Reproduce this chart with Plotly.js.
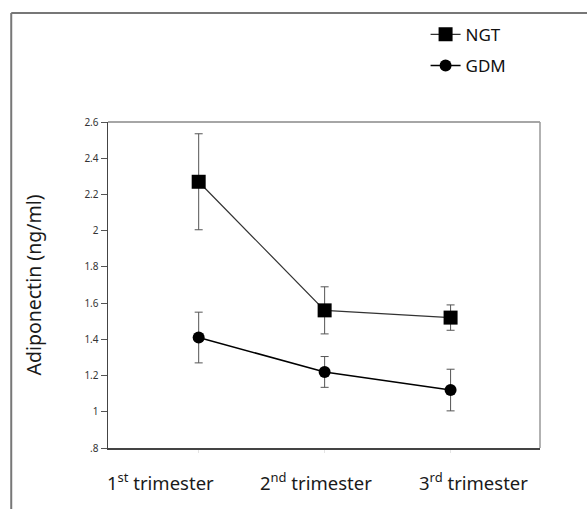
<!DOCTYPE html>
<html>
<head>
<meta charset="utf-8">
<script src="https://cdn.plot.ly/plotly-3.0.1.min.js"></script>
<style>html,body{margin:0;padding:0;background:#fff;}#chart{width:587px;height:509px;}</style>
</head>
<body>
<div id="chart"></div>
<script>
// Data
const categories = ["1st trimester", "2nd trimester", "3rd trimester"];
const categoryLabels = ["1<sup>st</sup> trimester", "2<sup>nd</sup> trimester", "3<sup>rd</sup> trimester"];
const ngtMean = [2.27, 1.56, 1.52];
const ngtErr = [0.265, 0.13, 0.07];
const gdmMean = [1.41, 1.22, 1.12];
const gdmErr = [0.14, 0.085, 0.115];
const yTickVals = [0.8, 1, 1.2, 1.4, 1.6, 1.8, 2, 2.2, 2.4, 2.6];
const yTickText = [".8", "1", "1.2", "1.4", "1.6", "1.8", "2", "2.2", "2.4", "2.6"];
const labelOffsets = [-0.30, -0.065, 0.185];

const xIdx = categories.map((c, i) => i);
const FONT = "Noto Sans, Open Sans, sans-serif";

const traces = [
  {
    name: "NGT", legendgroup: "a",
    x: xIdx, y: ngtMean, type: "scatter", mode: "lines+markers",
    line: {color: "#333", width: 1.2},
    marker: {symbol: "square", size: 14, color: "#000"},
    error_y: {type: "data", array: ngtErr, visible: true, color: "#555", thickness: 1, width: 4}
  },
  {
    name: "GDM", legendgroup: "b",
    x: xIdx, y: gdmMean, type: "scatter", mode: "lines+markers",
    line: {color: "#000", width: 1.5},
    marker: {symbol: "circle", size: 12, color: "#000"},
    error_y: {type: "data", array: gdmErr, visible: true, color: "#555", thickness: 1, width: 4}
  }
];

const annotations = categoryLabels.map((t, i) => ({
  text: t, x: xIdx[i] + labelOffsets[i], xref: "x", y: 0, yref: "paper",
  yanchor: "middle", xanchor: "center", yshift: -33.5, showarrow: false,
  font: {family: FONT, size: 18.5, color: "#1a1a1a"}
}));

const layout = {
  width: 587, height: 509,
  margin: {l: 108, r: 46.5, t: 122, b: 61, autoexpand: false},
  paper_bgcolor: "#fff", plot_bgcolor: "#fff",
  font: {family: FONT, color: "#333"},
  showlegend: true,
  legend: {
    x: 0.725, xanchor: "left", y: 0.967, yanchor: "top",
    xref: "container", yref: "container",
    font: {family: FONT, size: 17, color: "#111"},
    tracegroupgap: 6, bgcolor: "rgba(0,0,0,0)"
  },
  xaxis: {
    range: [-0.72, 2.71], showgrid: false, zeroline: false, automargin: false,
    showline: true, linecolor: "#444", linewidth: 1.5,
    tickvals: xIdx, ticktext: ["", "", ""], ticks: "outside", ticklen: 3, tickcolor: "#e4e4e4",
    fixedrange: true
  },
  yaxis: {
    range: [0.8, 2.6], showgrid: false, zeroline: false, automargin: false,
    showline: true, linecolor: "#444", linewidth: 1.5,
    tickvals: yTickVals, ticktext: yTickText,
    ticks: "outside", ticklen: 6, tickcolor: "#555", tickwidth: 1,
    tickfont: {family: FONT, size: 10, color: "#333"},
    title: {text: "Adiponectin (ng/ml)", font: {family: FONT, size: 19.5, color: "#1a1a1a"}, standoff: 37},
    fixedrange: true
  },
  annotations: annotations,
  shapes: [
    {type: "line", xref: "paper", yref: "paper", x0: 0, x1: 1, y0: 1, y1: 1, line: {color: "#888", width: 1.5}},
    {type: "line", xref: "paper", yref: "paper", x0: 1, x1: 1, y0: 0, y1: 1, line: {color: "#999", width: 1.5}},
    {type: "line", xref: "paper", yref: "paper", x0: -0.224, x1: -0.224, y0: 1.334, y1: -0.3, line: {color: "#777", width: 2}},
    {type: "line", xref: "paper", yref: "paper", x0: -0.224, x1: 1.2, y0: 1.334, y1: 1.334, line: {color: "#777", width: 2}}
  ]
};

Plotly.newPlot("chart", traces, layout, {displayModeBar: false, staticPlot: true});
</script>
</body>
</html>
